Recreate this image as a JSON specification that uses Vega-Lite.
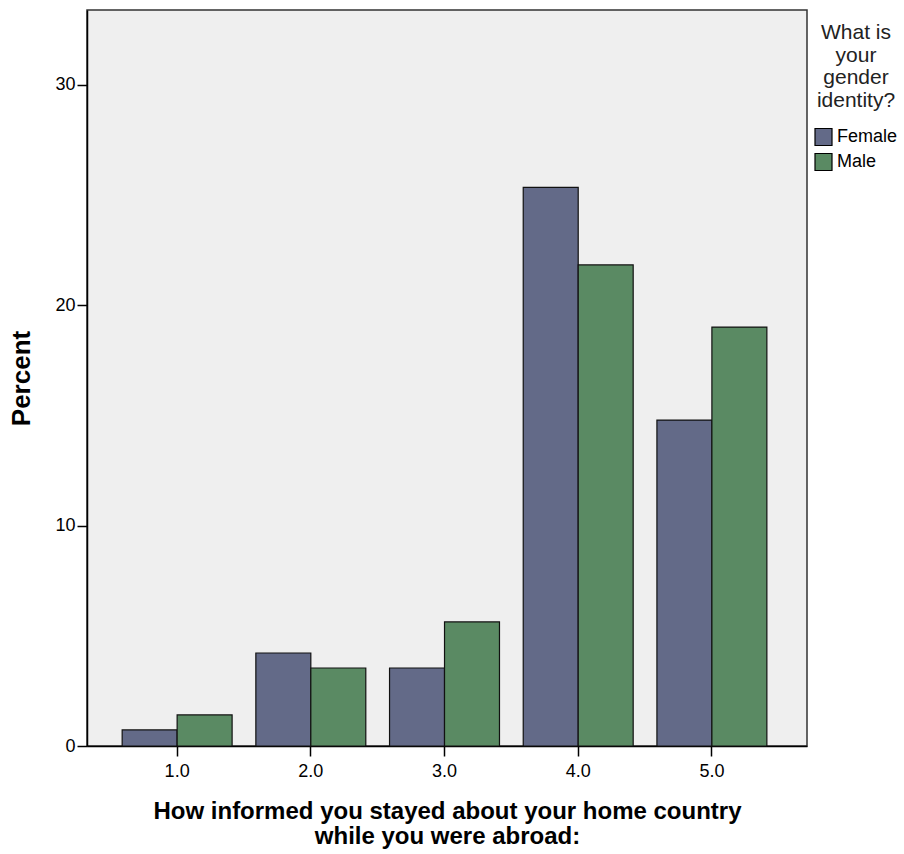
{
  "$schema": "https://vega.github.io/schema/vega-lite/v6.json",
  "autosize": "none",
  "width": 720,
  "height": 736,
  "padding": {"left": 87, "top": 10, "right": 97, "bottom": 108},
  "background": "white",
  "data": {
    "values": [
      {"score": "1.0", "gender": "Female", "pct": 0.73},
      {"score": "1.0", "gender": "Male", "pct": 1.41},
      {"score": "2.0", "gender": "Female", "pct": 4.22},
      {"score": "2.0", "gender": "Male", "pct": 3.54},
      {"score": "3.0", "gender": "Female", "pct": 3.54},
      {"score": "3.0", "gender": "Male", "pct": 5.63},
      {"score": "4.0", "gender": "Female", "pct": 25.35},
      {"score": "4.0", "gender": "Male", "pct": 21.83},
      {"score": "5.0", "gender": "Female", "pct": 14.79},
      {"score": "5.0", "gender": "Male", "pct": 19.01}
    ]
  },
  "config": {
    "view": {"fill": "#efefef", "stroke": "#333333", "strokeWidth": 1.5},
    "axis": {"grid": false, "domainColor": "#000000", "tickColor": "#000000", "labelColor": "#000000", "titleColor": "#000000", "labelFont": "Liberation Sans", "labelFontSize": 18, "titleFont": "Liberation Sans", "titleFontWeight": "bold", "titleFontSize": 24, "tickWidth": 1.5}
  },
  "mark": {"type": "bar", "stroke": "#111111", "strokeWidth": 1.2},
  "encoding": {
    "x": {
      "field": "score", "type": "nominal",
      "scale": {"paddingInner": 0.1776, "paddingOuter": 0.2816, "align": 0.467},
      "axis": {"labelAngle": 0, "tickSize": 10, "labelPadding": 6, "domain": true, "domainWidth": 1.5,
        "title": ["How informed you stayed about your home country", "while you were abroad:"],
        "titleLineHeight": 25, "titlePadding": 19}
    },
    "xOffset": {"field": "gender", "type": "nominal"},
    "y": {
      "field": "pct", "type": "quantitative",
      "scale": {"domain": [0, 33.4], "nice": false},
      "axis": {"values": [0, 10, 20, 30], "tickSize": 10, "labelPadding": 2, "domainWidth": 1.5, "title": "Percent", "titleFontSize": 26, "titlePadding": 20}
    },
    "color": {
      "field": "gender", "type": "nominal",
      "scale": {"domain": ["Female", "Male"], "range": ["#636a88", "#5a8a63"]},
      "legend": {
        "orient": "none", "legendX": 727, "legendY": 12,
        "title": ["What is", "your", "gender", "identity?"],
        "titleFont": "Liberation Sans", "titleFontWeight": "normal", "titleFontSize": 21, "titleLineHeight": 22.5,
        "titleAlign": "center", "titleAnchor": "middle", "titleColor": "#222222", "titlePadding": 17,
        "labelFont": "Liberation Sans", "labelFontSize": 18, "labelColor": "#000000", "labelOffset": 4,
        "symbolType": "square", "symbolSize": 289, "symbolStrokeColor": "#000000", "symbolStrokeWidth": 1.2, "symbolOpacity": 1,
        "rowPadding": 2
      }
    }
  }
}
